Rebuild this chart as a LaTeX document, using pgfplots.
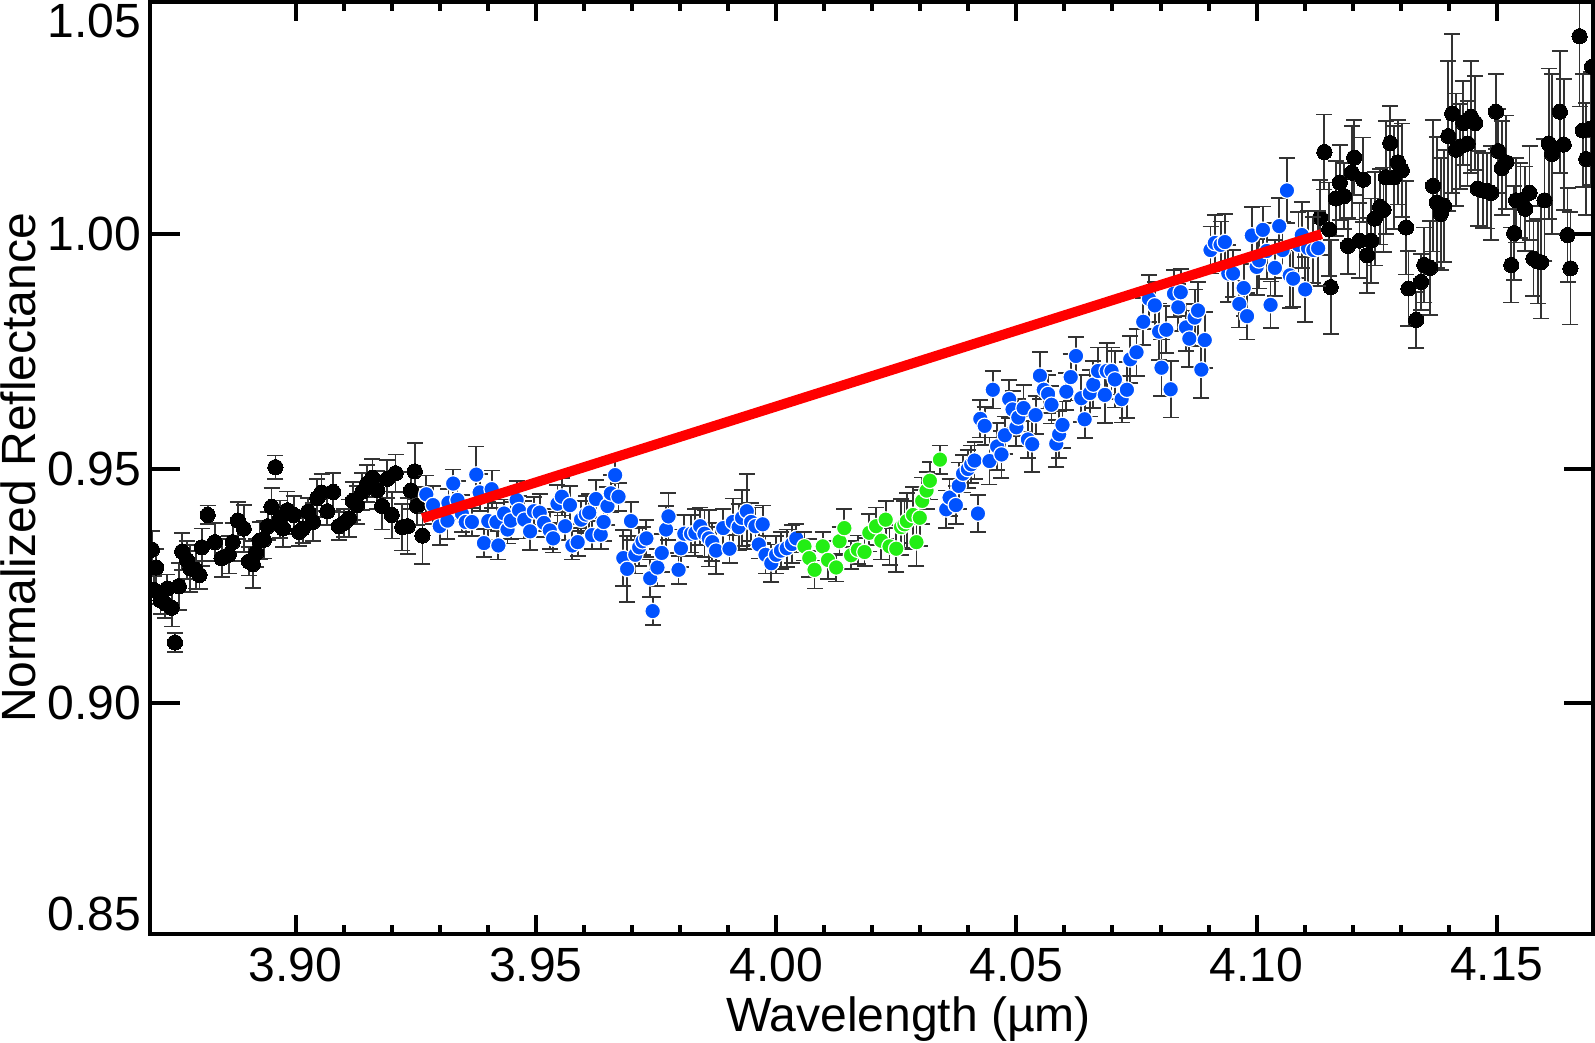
\documentclass[border=0pt]{standalone}
\usepackage{fontspec}
\setmainfont{Liberation Sans}
\usepackage{pgfplots}
\usepackage{pgfplotstable}
\pgfplotsset{compat=1.18}

\definecolor{ptblue}{RGB}{0,82,255}
\definecolor{ptgreen}{RGB}{35,238,20}
\newcommand{\lbl}{\fontsize{24}{28}\selectfont}

% black points, short-wavelength side
\pgfplotstableread{
x y e
3.8701 0.9327 0.004
3.8705 0.9241 0.003
3.8710 0.9289 0.004
3.8719 0.9219 0.003
3.8729 0.9212 0.003
3.8733 0.9244 0.003
3.8742 0.9203 0.004
3.8749 0.9129 0.002
3.8757 0.9249 0.005
3.8764 0.9323 0.004
3.8774 0.9305 0.004
3.8781 0.9287 0.005
3.8792 0.9284 0.004
3.8800 0.9273 0.003
3.8805 0.9332 0.004
3.8817 0.9401 0.002
3.8832 0.9343 0.004
3.8846 0.9309 0.004
3.8861 0.9316 0.004
3.8869 0.9343 0.004
3.8880 0.9389 0.004
3.8892 0.9372 0.005
3.8903 0.9302 0.003
3.8911 0.9296 0.005
3.8918 0.9320 0.003
3.8925 0.9346 0.004
3.8934 0.9348 0.004
3.8942 0.9377 0.003
3.8950 0.9418 0.004
3.8958 0.9503 0.0025
3.8967 0.9392 0.004
3.8974 0.9372 0.004
3.8983 0.9411 0.004
3.8996 0.9401 0.004
3.9007 0.9365 0.003
3.9015 0.9372 0.003
3.9026 0.9408 0.003
3.9036 0.9386 0.004
3.9045 0.9437 0.004
3.9054 0.9449 0.004
3.9066 0.9409 0.003
3.9078 0.9450 0.004
3.9090 0.9377 0.003
3.9101 0.9384 0.003
3.9111 0.9394 0.004
3.9119 0.9431 0.004
3.9128 0.9422 0.004
3.9139 0.9451 0.004
3.9149 0.9468 0.004
3.9160 0.9480 0.004
3.9170 0.9454 0.004
3.9180 0.9420 0.005
3.9191 0.9478 0.004
3.9200 0.9401 0.005
3.9208 0.9490 0.004
3.9222 0.9375 0.005
3.9233 0.9377 0.006
3.9240 0.9453 0.004
3.9248 0.9494 0.006
3.9253 0.9420 0.004
3.9264 0.9357 0.006
}\blackleft

% black points, long-wavelength side
\pgfplotstableread{
x y e
4.1132 1.0035 0.008
4.1141 1.0175 0.008
4.1151 1.0010 0.010
4.1154 0.9887 0.010
4.1165 1.0076 0.008
4.1173 1.0110 0.008
4.1182 1.0081 0.007
4.1190 0.9975 0.006
4.1198 1.0131 0.010
4.1203 1.0163 0.008
4.1214 0.9986 0.008
4.1222 1.0116 0.009
4.1230 0.9955 0.008
4.1238 0.9986 0.009
4.1246 1.0033 0.010
4.1257 1.0058 0.008
4.1264 1.0052 0.009
4.1269 1.0121 0.012
4.1278 1.0194 0.008
4.1286 1.0121 0.011
4.1294 1.0153 0.009
4.1302 1.0136 0.010
4.1311 1.0014 0.010
4.1316 0.9884 0.008
4.1332 0.9817 0.006
4.1342 0.9898 0.006
4.1349 0.9934 0.008
4.1361 0.9928 0.010
4.1367 1.0103 0.014
4.1375 1.0067 0.014
4.1383 1.0043 0.012
4.1390 1.0060 0.012
4.1399 1.0209 0.016
4.1407 1.0257 0.017
4.1415 1.0180 0.012
4.1424 1.0187 0.009
4.1430 1.0237 0.009
4.1439 1.0193 0.009
4.1446 1.0250 0.012
4.1455 1.0237 0.010
4.1460 1.0097 0.008
4.1471 1.0093 0.008
4.1479 1.0092 0.008
4.1488 1.0088 0.010
4.1498 1.0261 0.008
4.1503 1.0177 0.009
4.1510 1.0141 0.010
4.1519 1.0153 0.010
4.1530 0.9934 0.008
4.1536 1.0002 0.010
4.1540 1.0072 0.009
4.1549 1.0072 0.008
4.1559 1.0054 0.009
4.1568 1.0088 0.010
4.1576 0.9948 0.008
4.1585 0.9942 0.009
4.1592 0.9940 0.012
4.1599 1.0072 0.013
4.1608 1.0193 0.016
4.1615 1.0171 0.017
4.1631 1.0261 0.013
4.1639 1.0191 0.014
4.1647 0.9998 0.010
4.1653 0.9927 0.012
4.1672 1.0422 0.015
4.1679 1.0221 0.012
4.1686 1.0160 0.012
4.1695 1.0225 0.012
4.1698 1.0357 0.015
}\blackright

% blue points (band region)
\pgfplotstableread{
x y e
3.9272 0.9445 0.004
3.9286 0.9422 0.004
3.9300 0.9377 0.004
3.9316 0.9389 0.004
3.9318 0.9427 0.003
3.9328 0.9468 0.003
3.9337 0.9433 0.004
3.9346 0.9404 0.004
3.9354 0.9386 0.003
3.9367 0.9386 0.003
3.9376 0.9487 0.006
3.9383 0.9449 0.004
3.9392 0.9341 0.003
3.9401 0.9388 0.004
3.9408 0.9456 0.004
3.9418 0.9386 0.004
3.9422 0.9336 0.003
3.9434 0.9404 0.003
3.9441 0.9370 0.003
3.9448 0.9389 0.004
3.9460 0.9433 0.004
3.9465 0.9411 0.003
3.9476 0.9391 0.004
3.9488 0.9366 0.004
3.9496 0.9409 0.003
3.9508 0.9406 0.004
3.9517 0.9384 0.003
3.9529 0.9368 0.004
3.9536 0.9351 0.003
3.9545 0.9425 0.004
3.9554 0.9440 0.004
3.9561 0.9377 0.003
3.9571 0.9422 0.004
3.9576 0.9336 0.003
3.9587 0.9343 0.003
3.9594 0.9391 0.004
3.9604 0.9402 0.004
3.9611 0.9406 0.004
3.9617 0.9358 0.003
3.9625 0.9435 0.004
3.9635 0.9359 0.003
3.9641 0.9386 0.004
3.9649 0.9420 0.004
3.9656 0.9447 0.004
3.9665 0.9486 0.004
3.9672 0.9440 0.003
3.9682 0.9309 0.006
3.9690 0.9286 0.007
3.9698 0.9388 0.004
3.9707 0.9316 0.004
3.9715 0.9332 0.004
3.9722 0.9345 0.003
3.9730 0.9351 0.004
3.9738 0.9266 0.004
3.9743 0.9196 0.003
3.9753 0.9289 0.004
3.9762 0.9320 0.004
3.9771 0.9370 0.005
3.9776 0.9398 0.005
3.9797 0.9284 0.003
3.9802 0.9330 0.004
3.9809 0.9361 0.004
3.9823 0.9361 0.004
3.9832 0.9363 0.005
3.9842 0.9377 0.004
3.9851 0.9361 0.005
3.9860 0.9351 0.006
3.9867 0.9343 0.004
3.9875 0.9325 0.005
3.9890 0.9373 0.004
3.9903 0.9329 0.003
3.9910 0.9386 0.005
3.9922 0.9375 0.005
3.9929 0.9395 0.006
3.9939 0.9409 0.008
3.9948 0.9386 0.004
3.9957 0.9377 0.004
3.9964 0.9338 0.003
3.9972 0.9381 0.004
3.9978 0.9316 0.004
3.9990 0.9298 0.004
4.0000 0.9316 0.004
4.0010 0.9325 0.004
4.0022 0.9330 0.004
4.0033 0.9339 0.004
4.0042 0.9351 0.003
4.0354 0.9413 0.004
4.0361 0.9438 0.004
4.0374 0.9422 0.004
4.0380 0.9463 0.005
4.0389 0.9489 0.004
4.0399 0.9499 0.004
4.0406 0.9509 0.004
4.0413 0.9517 0.004
4.0420 0.9404 0.004
4.0425 0.9606 0.004
4.0434 0.9591 0.004
4.0444 0.9516 0.005
4.0451 0.9668 0.004
4.0460 0.9547 0.005
4.0469 0.9530 0.005
4.0476 0.9571 0.004
4.0485 0.9648 0.004
4.0492 0.9626 0.004
4.0500 0.9588 0.004
4.0504 0.9609 0.004
4.0515 0.9629 0.005
4.0524 0.9562 0.004
4.0533 0.9552 0.006
4.0540 0.9614 0.004
4.0549 0.9698 0.005
4.0557 0.9668 0.004
4.0566 0.9659 0.004
4.0573 0.9636 0.004
4.0583 0.9553 0.005
4.0589 0.9573 0.005
4.0596 0.9593 0.005
4.0604 0.9664 0.004
4.0613 0.9695 0.005
4.0624 0.9740 0.004
4.0635 0.9650 0.005
4.0642 0.9605 0.004
4.0653 0.9661 0.005
4.0660 0.9679 0.005
4.0670 0.9708 0.005
4.0684 0.9657 0.006
4.0688 0.9708 0.006
4.0698 0.9708 0.005
4.0705 0.9690 0.006
4.0719 0.9648 0.005
4.0730 0.9668 0.006
4.0737 0.9733 0.005
4.0750 0.9748 0.005
4.0764 0.9813 0.005
4.0776 0.9862 0.005
4.0788 0.9848 0.005
4.0797 0.9792 0.006
4.0802 0.9715 0.006
4.0812 0.9796 0.005
4.0821 0.9669 0.006
4.0828 0.9873 0.005
4.0837 0.9844 0.005
4.0842 0.9876 0.005
4.0853 0.9801 0.005
4.0860 0.9777 0.006
4.0871 0.9822 0.006
4.0878 0.9837 0.006
4.0885 0.9711 0.006
4.0892 0.9774 0.006
4.0904 0.9966 0.005
4.0913 0.9981 0.006
4.0925 0.9977 0.005
4.0934 0.9983 0.006
4.0941 0.9916 0.006
4.0951 0.9916 0.005
4.0964 0.9851 0.005
4.0973 0.9885 0.006
4.0980 0.9825 0.005
4.0990 0.9997 0.006
4.1000 0.9930 0.006
4.1005 0.9944 0.006
4.1013 1.0009 0.005
4.1021 0.9964 0.006
4.1029 0.9849 0.005
4.1038 0.9928 0.006
4.1047 1.0017 0.006
4.1054 0.9966 0.006
4.1063 1.0093 0.007
4.1069 0.9912 0.007
4.1076 0.9905 0.006
4.1087 0.9977 0.007
4.1094 0.9998 0.007
4.1101 0.9882 0.007
4.1107 0.9970 0.008
4.1118 0.9966 0.007
4.1128 0.9970 0.008
}\bluepts

% green points (band minimum)
\pgfplotstableread{
x y e
4.0059 0.9334 0.003
4.0069 0.9309 0.004
4.0080 0.9284 0.004
4.0097 0.9334 0.003
4.0108 0.9305 0.004
4.0125 0.9289 0.003
4.0132 0.9345 0.003
4.0142 0.9373 0.004
4.0156 0.9315 0.003
4.0170 0.9327 0.003
4.0184 0.9322 0.003
4.0194 0.9363 0.004
4.0208 0.9377 0.004
4.0219 0.9346 0.004
4.0228 0.9391 0.004
4.0236 0.9334 0.004
4.0250 0.9329 0.005
4.0260 0.9375 0.006
4.0267 0.9381 0.005
4.0272 0.9388 0.006
4.0285 0.9401 0.006
4.0292 0.9343 0.005
4.0299 0.9395 0.006
4.0304 0.9431 0.005
4.0313 0.9453 0.004
4.0320 0.9474 0.004
4.0341 0.9519 0.003
}\greenpts

\pgfplotsset{
  frame/.style={
    scale only axis,
    width=720.5pt, height=465.35pt,
    xmin=3.8698, xmax=4.17, ymin=0.8508, ymax=1.0495,
    axis line style={line width=2pt},
    every tick/.style={black, line width=2pt},
    tick align=inside,
    tick label style={font=\lbl},
  },
  errs/.style={
    error bars/.cd, y dir=both, y explicit,
    error bar style={line width=0.9pt, black!80},
    error mark options={rotate=90, mark size=4pt, line width=0.9pt, black!80},
  },
}

\begin{document}
\begin{tikzpicture}
\begin{axis}[frame,
  clip marker paths=true,
  xtick={3.90,3.95,4.00,4.05,4.10,4.15},
  minor x tick num=4,
  ytick=\empty,
  major tick length=9.5pt, minor tick length=4.5pt,
  xticklabel={\pgfmathprintnumber[fixed,fixed zerofill,precision=2,assume math mode=true]{\tick}},
  xticklabel style={inner sep=6.7pt},
  xlabel={Wavelength (µm)},
  xlabel style={at={(axis description cs:0.5255,-0.1175)}, anchor=south, inner sep=0.5pt, font=\lbl},
  ylabel={Normalized Reflectance},
  ylabel style={at={(axis description cs:-0.1046,0.5)}, anchor=north, inner sep=0.5pt, font=\lbl},
]
\addplot[only marks, mark=*, mark size=3.8pt, mark options={fill=black, draw=black, line width=0pt}, errs]
  table[x=x, y=y, y error=e] {\blackleft};
\addplot[only marks, mark=*, mark size=3.8pt, mark options={fill=black, draw=black, line width=0pt}, errs]
  table[x=x, y=y, y error=e] {\blackright};
\addplot[only marks, mark=*, mark size=3.9pt, mark options={fill=ptblue, draw=white, line width=0.6pt}, errs]
  table[x=x, y=y, y error=e] {\bluepts};
\addplot[only marks, mark=*, mark size=3.9pt, mark options={fill=ptgreen, draw=white, line width=0.6pt}, errs]
  table[x=x, y=y, y error=e] {\greenpts};
% continuum fit
\addplot[red, line width=5pt] coordinates {(3.9264,0.9394) (4.1135,1.0000)};
\end{axis}

% second frame only for the longer y ticks and their labels
\begin{axis}[frame,
  clip=false,
  xtick=\empty,
  ytick={0.90,0.95,1.00},
  major tick length=14.5pt,
  yticklabel={\pgfmathprintnumber[fixed,fixed zerofill,precision=2,assume math mode=true]{\tick}},
  yticklabel style={inner sep=0pt, xshift=-4.4pt},
]
\node[anchor=east, inner sep=0pt, xshift=-4.4pt, font=\lbl] at (axis cs:3.8698,0.855) {0.85};
\node[anchor=east, inner sep=0pt, xshift=-4.4pt, font=\lbl] at (axis cs:3.8698,1.0455) {1.05};
\end{axis}
\end{tikzpicture}
\end{document}
